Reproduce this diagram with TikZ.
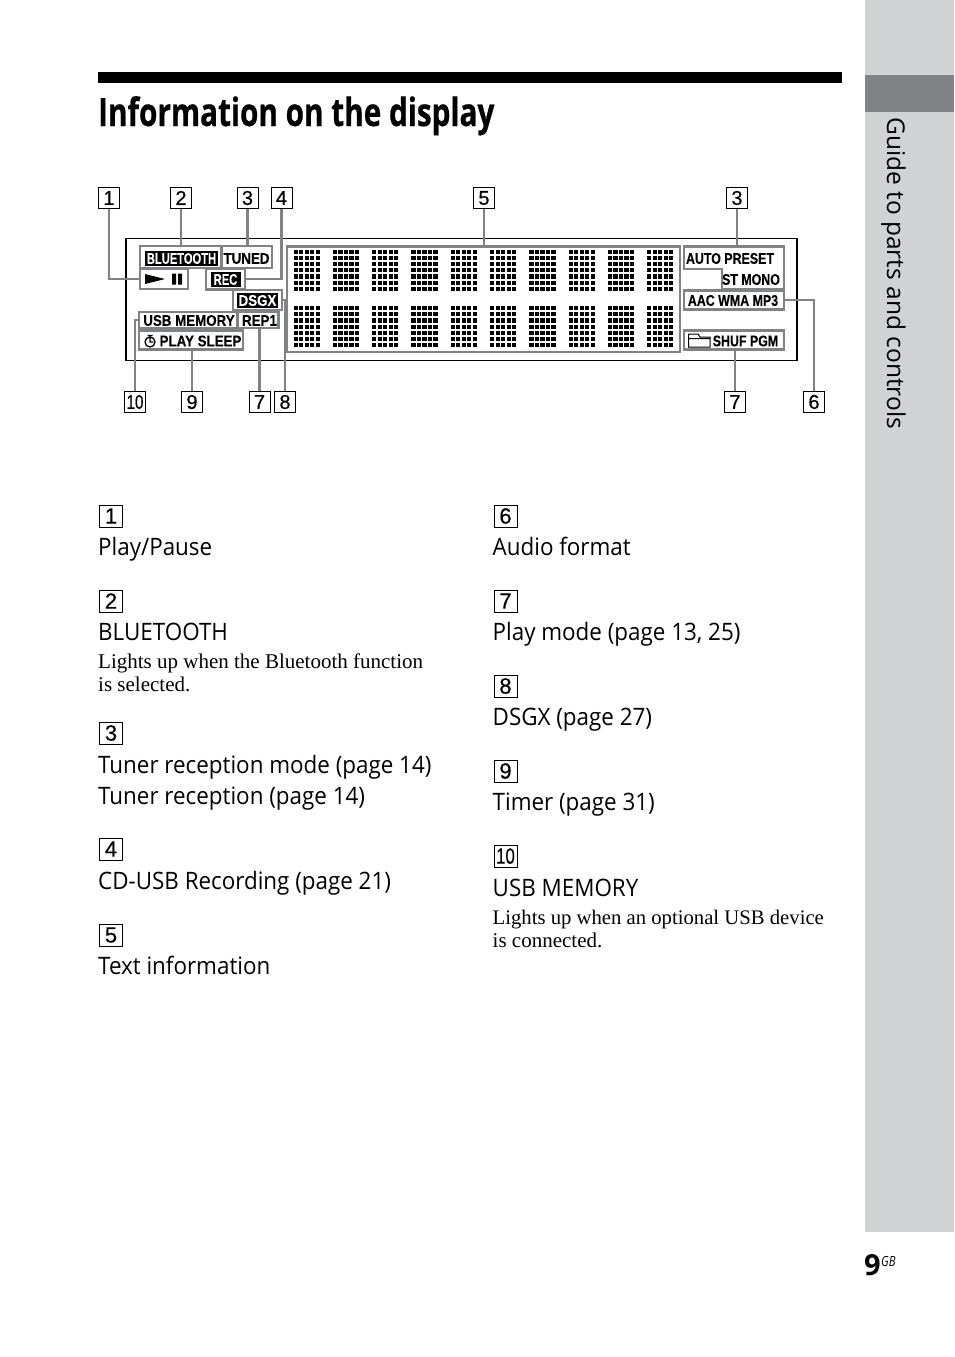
\documentclass[tikz,border=0pt]{standalone}
\usepackage{fontspec}
\usetikzlibrary{positioning,calc}
\setmainfont{Open Sans}
\newfontfamily\bodyfont[FakeStretch=0.933]{Open Sans}
\newfontfamily\notefont{Liberation Serif}
\newfontfamily\titlefont[FakeStretch=0.762,FakeBold=0.6]{Open Sans Bold}
\newfontfamily\lcdfont[FakeStretch=0.80,FakeBold=0.1]{Liberation Sans Bold}
\newfontfamily\lcdnarrow[FakeStretch=0.72,FakeBold=0.1]{Liberation Sans Bold}
\newfontfamily\lcdwide[FakeStretch=0.86,FakeBold=0.1]{Liberation Sans Bold}
\newfontfamily\tagfont[FakeBold=0.35]{Liberation Sans}
\newfontfamily\tagten[FakeStretch=0.76,FakeBold=0.35]{Liberation Sans}
\newfontfamily\gbfont[FakeStretch=0.8]{Open Sans}
\definecolor{leadgray}{RGB}{128,130,133}
\definecolor{sidegray}{RGB}{209,210,212}
\tikzset{
  tagbox/.style={rectangle,draw=black,line width=1pt,fill=white,inner sep=0pt,font=\tagfont\fontsize{20}{20}\selectfont,text=black},
  toptag/.style={tagbox,minimum width=21pt,minimum height=21pt},
  listtag/.style={tagbox,minimum width=23pt,minimum height=22pt,font=\tagfont\fontsize{22}{22}\selectfont},
  framebox/.style={rectangle,draw=leadgray,line width=2.5pt,fill=white,inner sep=0pt},
  leader/.style={draw=leadgray,line width=2.3pt},
  lcd/.style={inner sep=0pt,font=\lcdfont\fontsize{15.5}{15.5}\selectfont,text=black},
  lcdrev/.style={lcd,fill=black,text=white,minimum height=15pt},
  head/.style={anchor=base west,inner sep=0pt,font=\bodyfont\fontsize{24}{24}\selectfont},
  note/.style={anchor=base west,inner sep=0pt,font=\notefont\fontsize{21}{21}\selectfont}
}
\begin{document}
\begin{tikzpicture}[x=1pt,y=-1pt]
  \useasboundingbox (0,0) rectangle (954,1357);
  \fill[sidegray] (865,0) rectangle (954,1232);
  \fill[leadgray] (865,75) rectangle (954,112);
  \fill[black] (98,72) rectangle (842,83);
  \node[anchor=base west,inner sep=0pt,font=\titlefont\fontsize{39}{39}\selectfont] (title) at (98,126) {Information on the display};
  \node[anchor=base west,inner sep=0pt,rotate=-90,font=\fontsize{24.5}{24.5}\selectfont] (side) at (887,117) {Guide to parts and controls};
  \node[anchor=base west,inner sep=0pt,font=\bfseries\fontsize{29}{29}\selectfont] (pageno) at (864,1275) {9};
  \node[anchor=base west,inner sep=0pt,font=\gbfont\itshape\fontsize{14}{14}\selectfont] (pagegb) at (881,1266) {GB};
  % display
  \node[rectangle,draw=black,line width=1.5pt,minimum width=671pt,minimum height=122pt,inner sep=0pt] (display) at (461.5,299.5) {};
  \node[framebox,minimum width=393pt,minimum height=105.5pt] (matrix) at (483.5,299) {};
  \foreach \col in {0,...,9} {
    \foreach \row/\ytop in {0/249.5,1/306} {
      \foreach \i in {0,...,4} {
        \foreach \j in {0,...,6} {
          \fill[black] ({293.5+39.3*\col+5.5*\i},{\ytop+6.2*\j}) rectangle ++(4.2,4.2);
        }
      }
    }
  }
  \node[framebox,minimum width=132pt,minimum height=22pt] (btframe) at (206,257) {};
  \draw[leader] (221.5,246) -- (221.5,268);
  \node[framebox,minimum width=48pt,minimum height=20pt] (playframe) at (164,279) {};
  \node[framebox,minimum width=39pt,minimum height=21pt] (recframe) at (225.5,279) {};
  \node[framebox,minimum width=49pt,minimum height=20pt] (dsgxframe) at (257.5,300) {};
  \node[framebox,minimum width=98pt,minimum height=16pt] (usbframe) at (188,320) {};
  \node[framebox,minimum width=41pt,minimum height=16pt] (repframe) at (258,320) {};
  \node[framebox,minimum width=104pt,minimum height=19pt] (sleepframe) at (191,340) {};
  \node[framebox,minimum width=100pt,minimum height=19pt] (aacframe) at (734,300) {};
  \node[framebox,minimum width=100pt,minimum height=19pt] (shufframe) at (734,340) {};
  \draw[draw=leadgray,line width=2.5pt] (684,246.5) -- (784,246.5) -- (784,289) -- (722,289) -- (722,269) -- (684,269) -- cycle;
  \coordinate (autotop) at (737,246.5);
  % labels
  \node[lcdrev,minimum width=73pt,font=\lcdnarrow\fontsize{15.5}{15.5}\selectfont] (bluetooth) at (181.5,258.5) {BLUETOOTH};
  \node[lcd,font=\lcdwide\fontsize{15.5}{15.5}\selectfont] (tuned) at (246.5,258.5) {TUNED};
  \fill[black] (145,274) -- (165,279) -- (145,284) -- cycle;
  \fill[black] (172,273.5) rectangle (176,284.5) (178,273.5) rectangle (182,284.5);
  \node[lcdrev,minimum width=30pt,font=\lcdnarrow\fontsize{15.5}{15.5}\selectfont] (rec) at (225.5,279.5) {REC};
  \node[lcdrev,minimum width=41pt,font=\lcdwide\fontsize{15.5}{15.5}\selectfont] (dsgx) at (257.5,300.5) {DSGX};
  \node[lcd,font=\lcdwide\fontsize{15.5}{15.5}\selectfont] (usb) at (189,320.5) {USB MEMORY};
  \node[lcd,font=\lcdwide\fontsize{15.5}{15.5}\selectfont] (rep) at (259.5,320.5) {REP1};
  \draw[black,line width=1.3pt] (150,342) circle (5pt) (150,338) -- (150,342) -- (153,342) (147.5,335.5) -- (152.5,335.5);
  \node[lcd,font=\lcdwide\fontsize{15.5}{15.5}\selectfont] (sleep) at (200.5,341) {PLAY SLEEP};
  \node[lcd] (auto) at (730,258.5) {AUTO PRESET};
  \node[lcd] (stmono) at (751,279.5) {ST MONO};
  \node[lcd] (aac) at (733,300.5) {AAC WMA MP3};
  \draw[black,line width=1pt] (688.5,347) -- (688.5,334) -- (698,334) -- (700,337) -- (710,337) -- (710,347) -- cycle (688.5,338.5) -- (710,338.5);
  \node[lcd] (shuf) at (745.5,341) {SHUF PGM};
  % top and bottom tags
  \node[toptag] (tagA) at (109,198) {1};
  \node[toptag] (tagB) at (181,198) {2};
  \node[toptag] (tagC) at (247.5,198) {3};
  \node[toptag] (tagD) at (281.5,198) {4};
  \node[toptag] (tagE) at (484,198) {5};
  \node[toptag] (tagCc) at (737,198) {3};
  \node[toptag,font=\tagten\fontsize{20}{20}\selectfont] (tagJ) at (135,402) {10};
  \node[toptag] (tagI) at (192,402) {9};
  \node[toptag] (tagG) at (259.5,402) {7};
  \node[toptag] (tagH) at (285,402) {8};
  \node[toptag] (tagGg) at (735,402) {7};
  \node[toptag] (tagF) at (814,402) {6};
  \draw[leader] (tagA) |- (playframe.west);
  \draw[leader] (tagB) -- (tagB |- btframe.north);
  \draw[leader] (tagC) -- (tagC |- btframe.north);
  \draw[leader] (tagD) |- (recframe.east);
  \draw[leader] (tagE) -- (tagE |- matrix.north);
  \draw[leader] (tagCc) -- (autotop);
  \draw[leader] (tagJ) |- (usbframe.west);
  \draw[leader] (tagI) -- (tagI |- sleepframe.south);
  \draw[leader] (tagG) -- (tagG |- repframe.south);
  \draw[leader] (tagH) |- (dsgxframe.east);
  \draw[leader] (tagGg) -- (tagGg |- shufframe.south);
  \draw[leader] (tagF) |- (aacframe.east);
  % left column
  \node[listtag] (itemA) at (111,516) {1};
  \node[head] (textA) at (98,555) {Play/Pause};
  \node[listtag] (itemB) at (111,601) {2};
  \node[head] (textB) at (98,640) {BLUETOOTH};
  \node[note] (noteB) at (98,668) {Lights up when the Bluetooth function};
  \node[note] (noteBb) at (98,691) {is selected.};
  \node[listtag] (itemC) at (111,733) {3};
  \node[head] (textC) at (98,773) {Tuner reception mode (page 14)};
  \node[head] (textCc) at (98,804) {Tuner reception (page 14)};
  \node[listtag] (itemD) at (111,849) {4};
  \node[head] (textD) at (98,889) {CD-USB Recording (page 21)};
  \node[listtag] (itemE) at (111,935) {5};
  \node[head] (textE) at (98,974) {Text information};
  % right column
  \node[listtag] (itemF) at (505.5,516) {6};
  \node[head] (textF) at (492.5,555) {Audio format};
  \node[listtag] (itemG) at (505.5,601) {7};
  \node[head] (textG) at (492.5,640) {Play mode (page 13, 25)};
  \node[listtag] (itemH) at (505.5,686) {8};
  \node[head] (textH) at (492.5,725) {DSGX (page 27)};
  \node[listtag] (itemI) at (505.5,771) {9};
  \node[head] (textI) at (492.5,810) {Timer (page 31)};
  \node[listtag,font=\tagten\fontsize{22}{22}\selectfont] (itemJ) at (505.5,856) {10};
  \node[head] (textJ) at (492.5,896) {USB MEMORY};
  \node[note,font=\notefont\fontsize{20.7}{20.7}\selectfont] (noteJ) at (492.5,924) {Lights up when an optional USB device};
  \node[note] (noteJj) at (492.5,947) {is connected.};
\end{tikzpicture}
\end{document}
